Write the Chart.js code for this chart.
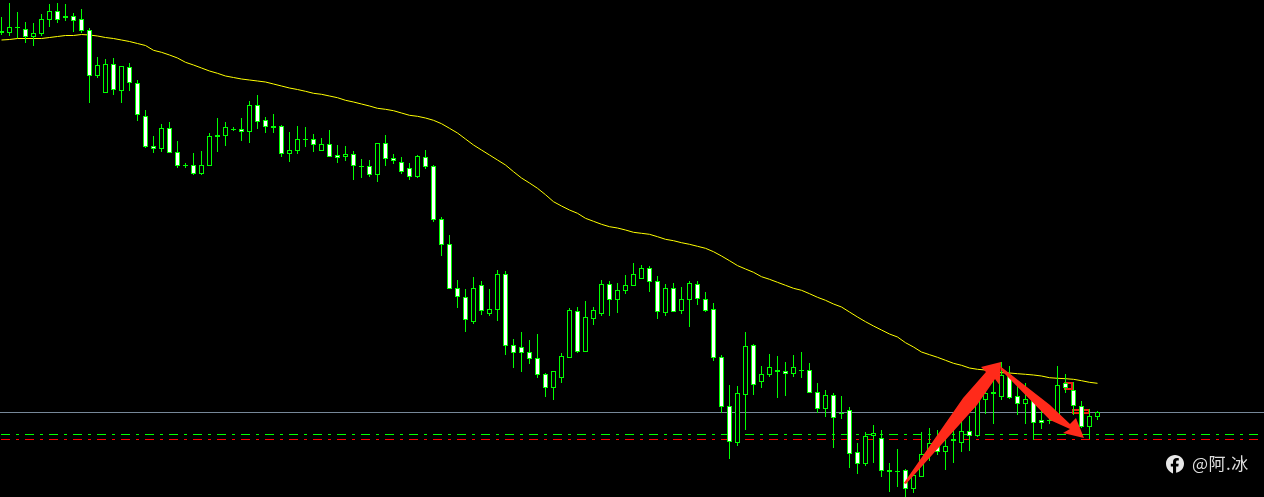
<!DOCTYPE html>
<html>
<head>
<meta charset="utf-8">
<style>
html,body{margin:0;padding:0;background:#000;width:1264px;height:497px;overflow:hidden}
#wrap{position:relative;width:1264px;height:497px}
canvas{display:block}
#mark{position:absolute;left:1192px;top:451px;font:17px/24px "Noto Sans CJK SC","Noto Sans",sans-serif;color:#dedede;letter-spacing:0.5px;white-space:nowrap}
#fb{position:absolute;left:1166px;top:455px}
</style>
<script src="https://cdn.jsdelivr.net/npm/chart.js@4"></script>
</head>
<body>
<div id="wrap">
<canvas id="c" width="1264" height="497"></canvas>
<svg id="fb" width="18" height="19" viewBox="0 0 18 19"><path fill="#e8e8e8" d="M9 0C4 0 0 3.6 0 8.6c0 4.6 2.8 8 7 10v-7H4.8V8.7H7V7c0-2.6 1.5-4 3.800-4 1 0 2 .2 2 .2v2.300h-1.200c-1.100 0-1.500.7-1.500 1.500v1.700h2.600l-.4 2.900h-2.200v6.200C15 16.700 18 13.200 18 8.600 18 3.600 14 0 9 0z"/></svg>
<div id="mark">@阿.冰</div>
</div>
<script>
const opens = [466,464,470,468,460,463,477,486,481,481,478,467,421,404,433,406,430,414,381,351,348,369,345,332,332,323,331,362,361,368,368,365,392,377,371,371,343,346,358,358,346,353,342,340,343,331,331,322,354,339,335,329,320,340,331,278,253,209,200,175,212,183,187,223,152,150,145,139,123,109,119,139,186,145,178,183,213,197,206,211,218,229,216,184,209,186,197,213,198,188,140,91,54,102,152,115,122,127,126,123,127,127,105,88,102,84,87,45,33,61,59,27,26,27,8,20,42,52,45,58,54,66,61,97,105,100,122,101,93,98,77,77,76,114,107,91,70,80];
const closes = [464,470,469,460,464,478,486,477,479,476,466,421,432,433,407,431,414,382,350,348,369,344,331,331,323,332,361,360,370,367,365,392,375,370,369,343,347,358,357,352,353,340,339,343,331,330,322,354,338,336,325,320,341,330,277,252,208,200,177,209,186,188,223,151,144,144,138,122,109,126,141,187,145,180,187,213,197,207,212,223,229,215,185,209,185,198,214,198,186,139,90,55,104,151,112,123,130,125,123,130,126,104,88,102,79,83,43,33,61,64,26,25,25,8,22,43,54,45,51,56,66,61,97,104,103,122,99,93,98,74,74,76,112,109,91,70,81,85];
const highs = [480,494,485,475,474,483,493,494,493,484,488,469,440,438,439,431,434,417,387,361,373,375,356,334,344,346,364,379,375,370,379,396,402,380,383,372,365,371,370,363,359,367,352,351,346,338,337,354,362,343,340,334,342,347,332,280,262,217,208,220,216,208,227,226,158,165,157,163,124,126,144,189,190,196,190,217,216,214,222,234,232,231,221,213,214,210,216,216,205,194,142,112,111,165,153,131,143,141,135,142,145,134,114,107,104,101,90,54,65,72,67,34,48,28,27,65,69,67,58,72,80,81,97,108,120,135,131,114,114,100,97,92,131,123,115,96,88,86];
const lows = [462,461,459,454,451,461,470,474,476,465,464,394,419,404,402,394,406,376,349,344,345,344,329,329,322,322,331,345,351,366,356,354,368,364,364,340,335,343,350,345,346,340,334,336,317,319,320,315,331,333,323,317,319,328,275,241,208,189,165,173,182,181,176,142,129,125,133,119,100,97,114,139,144,145,172,181,181,184,203,211,218,205,178,181,185,183,170,192,185,136,84,38,51,67,102,109,120,99,101,120,119,104,84,80,49,78,29,23,31,34,20,5,10,0,4,20,36,42,27,34,45,46,60,83,73,97,98,82,73,57,68,73,76,104,82,69,58,77];
const maValues = [457,457.5,458.5,458.5,458.5,458.5,459.5,460.5,461.5,461.5,462.5,462,461,459.5,458.5,457,455.5,453.5,451.5,446.7,444.7,442,439,434.7,432,429,426,423.7,421,419.5,418,417,416,415,413,411,409,407.5,405.7,403.7,402.7,401,399.3,396.7,395,393,391,388.7,387.7,386.3,384,381.7,380.7,379,376.7,373.3,368.7,364,358,352,347,342,337,332,325.3,319,314,308.7,302.3,295.3,291,287,283.7,278.7,275.7,272.7,270.3,269,267,264.7,263.7,262.7,260.3,257.7,256.3,254.3,252.7,250.7,248.7,245.3,241,236.3,231.4,228,224.7,220.3,217.7,214.7,211.7,208.7,206.7,203.3,199.7,196.7,193,190,185,180,175.3,171,167,163,160,154.3,150,145,142.3,139.7,136.7,133.7,131.7,129,127.7,127,125.7,124.3,124,123.3,122.7,122,121,119.3,118.7,118.3,117.7,116.3,114.7,113.7];
const levelGrey = 84.5;
const levelGreen = 62.5;
const levelRed = 57.5;
const arrowUp = [[112.8,14],[120.2,99],[123.06,125],[122.44,130],[124.94,135],[124.75,112],[124.19,118],[121.94,92],[113.06,13]];
const arrowDown = [[124.81,131],[131.06,92],[133.56,73],[134.31,79],[135.31,59],[132.69,64],[133.56,68],[131.06,77],[124.94,127]];
const redBoxes = [[132.81,133.94,115,107],[133.81,135.94,88,83]];

const xMin = -0.1875, xMax = 157.8125;
const idx = opens.map((_, i) => i);
const span = (a, b) => idx.map(i => ({x: i, y: [a[i], b[i]]}));
const level = v => [{x: xMin, y: v}, {x: xMax, y: v}];

const overlay = {
  id: 'overlay',
  afterDatasetDraw(chart, args) {
    const {ctx, scales: {x, y}} = chart;
    if (chart.data.datasets[args.index].label === 'MA') {
      ctx.save();
      ctx.strokeStyle = '#f01c10';
      ctx.lineWidth = 2;
      redBoxes.forEach(b => {
        const l = x.getPixelForValue(b[0]), r = x.getPixelForValue(b[1]);
        const t = y.getPixelForValue(b[2]), d = y.getPixelForValue(b[3]);
        ctx.strokeRect(l + 1, t + 1, r - l - 2, d - t - 2);
      });
      ctx.restore();
    }
  },
  afterDraw(chart) {
    const {ctx, scales: {x, y}} = chart;
    ctx.save();
    ctx.fillStyle = '#ff2a1a';
    [arrowUp, arrowDown].forEach(poly => {
      ctx.beginPath();
      poly.forEach((p, i) => {
        const px = x.getPixelForValue(p[0]), py = y.getPixelForValue(p[1]);
        i ? ctx.lineTo(px, py) : ctx.moveTo(px, py);
      });
      ctx.closePath();
      ctx.fill();
    });
    ctx.restore();
  }
};

new Chart(document.getElementById('c'), {
  type: 'bar',
  data: {
    datasets: [
      {type:'line', label:'Level', data: level(levelGrey), borderColor:'#778899', borderWidth:1, pointRadius:0, order:9},
      {type:'line', label:'Green', data: level(levelGreen), borderColor:'#00ff00', borderWidth:1, borderDash:[9,6,3,6], borderDashOffset:23, pointRadius:0, order:8},
      {type:'line', label:'Red', data: level(levelRed), borderColor:'#ff0000', borderWidth:1, borderDash:[9,6,3,6], borderDashOffset:23, pointRadius:0, order:7},
      {type:'line', label:'MA', data: idx.map(i => ({x:i, y:maValues[i]})), borderColor:'#ffff00', borderWidth:1, pointRadius:0, tension:0, order:6},
      {label:'Wick', data: span(lows, highs), backgroundColor:'#00ff00', borderWidth:0, barThickness:1, inflateAmount:0, order:3},
      {label:'Body', data: span(opens, closes),
       backgroundColor: c => closes[c.dataIndex] < opens[c.dataIndex] ? '#ffffff' : '#000000',
       borderColor:'#00ff00', borderWidth:1, borderSkipped:false, barThickness:5, inflateAmount:0, order:2}
    ]
  },
  options: {
    responsive:false, animation:false, devicePixelRatio:1,
    layout:{padding:0},
    plugins:{legend:{display:false}, tooltip:{enabled:false}},
    datasets:{bar:{grouped:false}},
    scales:{
      x:{type:'linear', min:xMin, max:xMax, display:false, offset:false},
      y:{min:0, max:497, display:false}
    }
  },
  plugins:[overlay]
});
</script>
</body>
</html>
